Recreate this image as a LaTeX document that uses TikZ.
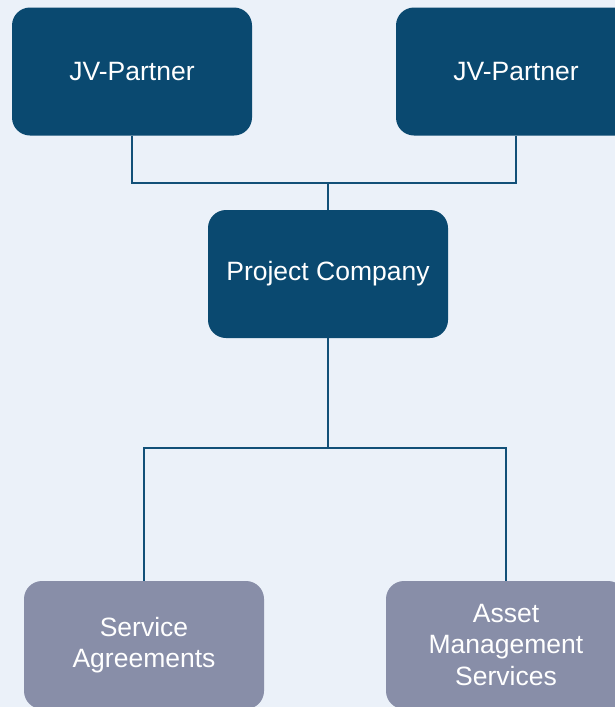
\documentclass[tikz,border=0pt]{standalone}
\usepackage{fontspec}
\setmainfont{Liberation Sans}
\usepackage{tikz}

\definecolor{pagebg}{RGB}{235,241,249}
\definecolor{darkbox}{RGB}{10,73,112}
\definecolor{greybox}{RGB}{136,142,168}
\definecolor{linkline}{RGB}{18,80,120}

\begin{document}
\begin{tikzpicture}[x=1pt,y=-1pt,
	box/.style={rounded corners=18pt, minimum width=240pt, minimum height=128pt,
		inner sep=0pt, align=center, text=white, font=\fontsize{26.5}{31.5}\selectfont},
	partner/.style={box, fill=darkbox},
	service/.style={box, fill=greybox},
	link/.style={draw=linkline, line width=1.1pt}]
	\fill[pagebg] (0,0) rectangle (615,707);
	\clip (0,0) rectangle (615,707);
	%\draw[help lines] (0,0) grid[step=50] (615,707);
	\node[partner] (jvleft) at (132,71.5) {JV-Partner};
	\node[partner] (jvright) at (516,71.5) {JV-Partner};
	\node[partner] (project) at (328,274) {Project Company};
	\node[service] (agreements) at (144,645) {Service\\Agreements};
	\node[service] (assets) at (506,645) {Asset\\Management\\Services};
	\coordinate (joint) at (328,183);
	\coordinate (split) at (328,448);
	\draw[link] (jvleft.south) |- (joint);
	\draw[link] (jvright.south) |- (joint);
	\draw[link] (joint) -- (project.north);
	\draw[link] (project.south) -- (split);
	\draw[link] (split) -| (agreements.north);
	\draw[link] (split) -| (assets.north);
\end{tikzpicture}
\end{document}
